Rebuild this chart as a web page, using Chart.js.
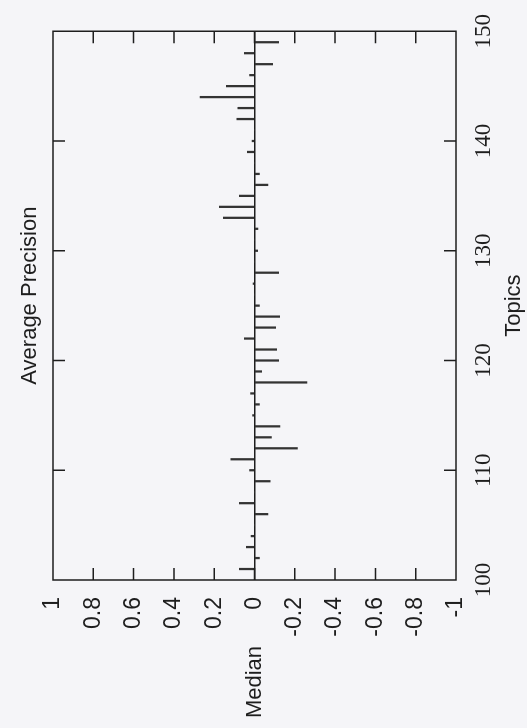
<!DOCTYPE html>
<html>
<head>
<meta charset="utf-8">
<script src="https://cdn.jsdelivr.net/npm/chart.js@4"></script>
<style>
  html, body { margin: 0; padding: 0; background: #f5f5f8; overflow: hidden; }
  /* chart is laid out landscape, then turned a quarter turn to stand upright */
  #wrap {
    position: absolute; left: 0; top: 0;
    width: 728px; height: 527px;
    transform-origin: 0 0;
    transform: translate(0, 728px) rotate(-90deg);
  }
</style>
</head>
<body>
<div id="wrap"><canvas id="ap-chart"></canvas></div>
<script>
// topic numbers and the median difference in average precision for each
const topics = [101, 102, 103, 104, 105, 106, 107, 108, 109, 110,
                111, 112, 113, 114, 115, 116, 117, 118, 119, 120,
                121, 122, 123, 124, 125, 126, 127, 128, 129, 130,
                131, 132, 133, 134, 135, 136, 137, 138, 139, 140,
                141, 142, 143, 144, 145, 146, 147, 148, 149, 150];
const median = [0.075, -0.025, 0.04, 0.017, 0, -0.066, 0.075, 0, -0.078, 0.025,
                0.117, -0.213, -0.084, -0.126, 0.009, -0.025, 0.02, -0.26, -0.035, -0.12,
                -0.11, 0.05, -0.105, -0.125, -0.025, 0, 0.007, -0.12, 0, -0.016,
                0, -0.017, 0.155, 0.175, 0.075, -0.067, -0.025, 0, 0.036, 0.012,
                0, 0.088, 0.083, 0.27, 0.14, 0.024, -0.09, 0.05, -0.12, 0];

const topicTicks = [100, 110, 120, 130, 140, 150];
const valueTicks = [1, 0.8, 0.6, 0.4, 0.2, 0, -0.2, -0.4, -0.6, -0.8, -1];

const ink = '#1e1e1e';

// box around the plot, inward tick marks and the free-standing labels
const framePlugin = {
  id: 'frame',
  afterDatasetsDraw(chart) {
    const { ctx, chartArea: a, scales: { x, y } } = chart;
    ctx.save();
    ctx.strokeStyle = ink;
    ctx.lineWidth = 1.5;
    ctx.strokeRect(a.left, a.top, a.right - a.left, a.bottom - a.top);

    ctx.beginPath();
    topicTicks.slice(1, -1).forEach(t => {
      const px = x.getPixelForValue(t);
      ctx.moveTo(px, a.top); ctx.lineTo(px, a.top + 12);
      ctx.moveTo(px, a.bottom); ctx.lineTo(px, a.bottom - 12);
    });
    valueTicks.slice(1, -1).forEach(v => {
      const py = y.getPixelForValue(v);
      ctx.moveTo(a.left, py); ctx.lineTo(a.left + 12, py);
      ctx.moveTo(a.right, py); ctx.lineTo(a.right - 12, py);
    });
    ctx.stroke();

    ctx.fillStyle = ink;
    ctx.font = '22px "Liberation Sans"';
    ctx.textAlign = 'center';
    ctx.textBaseline = 'alphabetic';
    ctx.fillText('Average Precision', (a.left + a.right) / 2 + 10, 36);

    ctx.textBaseline = 'middle';
    ctx.fillText('Median', 46, y.getPixelForValue(0));
    ctx.restore();
  }
};

new Chart(document.getElementById('ap-chart').getContext('2d'), {
  type: 'bar',
  data: {
    datasets: [{
      label: 'Median',
      data: topics.map((t, i) => ({ x: t, y: median[i] })),
      backgroundColor: '#333333',
      borderWidth: 0,
      barThickness: 1.6
    }]
  },
  options: {
    responsive: true,
    maintainAspectRatio: false,
    animation: false,
    layout: { padding: { left: 0, right: 23, top: 53, bottom: 0 } },
    plugins: {
      legend: { display: false },
      tooltip: { enabled: false }
    },
    scales: {
      x: {
        type: 'linear',
        min: 100,
        max: 150,
        offset: false,
        afterBuildTicks: s => { s.ticks = topicTicks.map(v => ({ value: v })); },
        afterFit: s => { s.height = 71; },
        grid: { display: false, drawTicks: false, offset: false },
        border: { display: false },
        ticks: {
          padding: 14,
          color: ink,
          maxRotation: 0,
          font: { family: '"Liberation Serif"', size: 23 }
        },
        title: {
          display: true,
          text: 'Topics',
          color: ink,
          padding: 0,
          font: { family: '"Liberation Sans"', size: 22 }
        }
      },
      y: {
        min: -1,
        max: 1,
        afterBuildTicks: s => { s.ticks = valueTicks.map(v => ({ value: v })); },
        afterFit: s => { s.width = 148; },
        grid: {
          drawTicks: false,
          lineWidth: 1.5,
          color: c => (c.tick && c.tick.value === 0 ? ink : 'rgba(0,0,0,0)')
        },
        border: { display: false },
        ticks: {
          padding: 17,
          color: ink,
          font: { family: '"Liberation Sans"', size: 23 },
          callback: v => String(v)
        }
      }
    }
  },
  plugins: [framePlugin]
});
</script>
</body>
</html>
